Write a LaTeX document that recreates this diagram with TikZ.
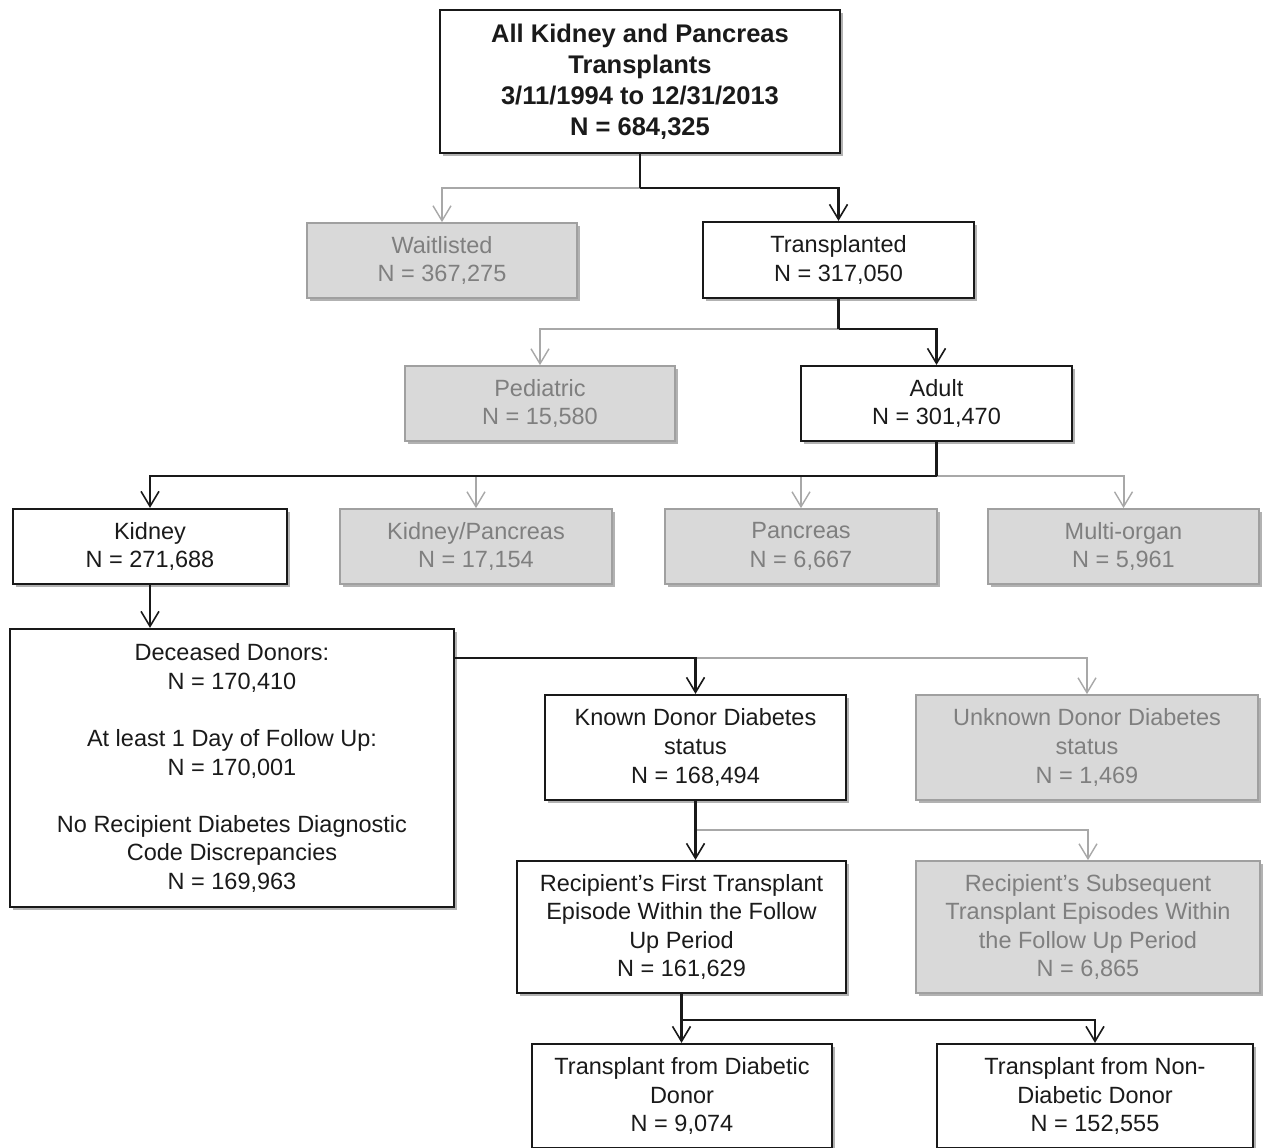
\documentclass[tikz,border=0pt]{standalone}
\usepackage{fontspec}
\setmainfont{Liberation Sans}
\usetikzlibrary{arrows.meta,shadows,calc}
\definecolor{boxgray}{HTML}{D9D9D9}
\definecolor{edgegray}{HTML}{A0A0A0}
\definecolor{txtgray}{HTML}{7F7F7F}
\definecolor{txtblack}{HTML}{1A1A1A}
\definecolor{linegray}{HTML}{A8A8A8}
\tikzset{
  base/.style={rectangle, inner sep=0pt, align=center, line width=2.2pt,
    font=\fontsize{23.5}{28.6}\selectfont,
    drop shadow={shadow xshift=3pt, shadow yshift=-3pt, opacity=0.3, fill=black}},
  wbox/.style={base, draw=black!90, fill=white, text=txtblack},
  gbox/.style={base, draw=edgegray, fill=boxgray, text=txtgray, line width=1.8pt},
  topbox/.style={wbox, font=\bfseries\fontsize{25.5}{31}\selectfont},
  sz/.style 2 args={minimum width=#1pt, minimum height=#2pt},
  blk/.style={draw=black!90, line width=2.4pt, -{Straight Barb[length=15pt,width=18pt,line width=1.6pt]}},
  gry/.style={draw=linegray, line width=2pt, -{Straight Barb[length=15pt,width=18pt,line width=1.4pt]}},
  blkn/.style={draw=black!90, line width=2.4pt},
}
\begin{document}
\begin{tikzpicture}[x=1pt,y=-1pt]
\useasboundingbox (0,0) rectangle (1269,1148);
% boxes
\node[topbox, sz={400}{143}] (top) at (640,81.5) {All Kidney and Pancreas\\Transplants\\3/11/1994 to 12/31/2013\\N = 684,325};
\node[gbox, sz={270}{75}] (wait) at (442,260.5) {Waitlisted\\N = 367,275};
\node[wbox, sz={271}{76}] (trans) at (838.5,260) {Transplanted\\N = 317,050};
\node[gbox, sz={270}{75}] (ped) at (540,403.5) {Pediatric\\N = 15,580};
\node[wbox, sz={271}{75}] (adult) at (936.5,403.5) {Adult\\N = 301,470};
\node[wbox, sz={274}{75}] (kid) at (150,546.5) {Kidney\\N = 271,688};
\node[gbox, sz={272}{75}] (kp) at (476,546.5) {Kidney/Pancreas\\N = 17,154};
\node[gbox, sz={272}{75}] (panc) at (801,546.5) {Pancreas\\N = 6,667};
\node[gbox, sz={271}{75}] (multi) at (1123.5,546.5) {Multi-organ\\N = 5,961};
\node[wbox, sz={444}{278}] (dec) at (232,768) {Deceased Donors:\\N = 170,410\\[28.6pt]At least 1 Day of Follow Up:\\N = 170,001\\[28.6pt]No Recipient Diabetes Diagnostic\\Code Discrepancies\\N = 169,963};
\node[wbox, sz={301}{105}] (known) at (695.5,747.5) {Known Donor Diabetes\\status\\N = 168,494};
\node[gbox, sz={342}{105}] (unknown) at (1087,747.5) {Unknown Donor Diabetes\\status\\N = 1,469};
\node[wbox, sz={329}{132}] (first) at (681.5,927) {Recipient's First Transplant\\Episode Within the Follow\\Up Period\\N = 161,629};
\node[gbox, sz={344}{132}] (subs) at (1088,927) {Recipient's Subsequent\\Transplant Episodes Within\\the Follow Up Period\\N = 6,865};
\node[wbox, sz={300}{104}] (diab) at (682,1096) {Transplant from Diabetic\\Donor\\N = 9,074};
\node[wbox, sz={316}{104}] (nondiab) at (1095,1096) {Transplant from Non-\\Diabetic Donor\\N = 152,555};
% junctions
\coordinate (j1) at (640,188);
\coordinate (j2) at (838.5,329);
\coordinate (j3) at (936.5,476);
\coordinate (j4) at (454,658);
\coordinate (j5) at (695.5,830);
\coordinate (j6) at (681.5,1020);
% gray connectors
\draw[gry] (j1) -| (wait.north);
\draw[gry] (j2) -| (ped.north);
\draw[gry] (j3) -| (kp.north);
\draw[gry] (j3) -| (panc.north);
\draw[gry] (j3) -| (multi.north);
\draw[gry] (j4) -| (unknown.north);
\draw[gry] (j5) -| (subs.north);
% black connectors
\draw[blkn] (top.south) -- (j1);
\draw[blk] (j1) -| (trans.north);
\draw[blkn] (trans.south) -- (j2);
\draw[blk] (j2) -| (adult.north);
\draw[blkn] (adult.south) -- (j3);
\draw[blk] (j3) -| (kid.north);
\draw[blk] (kid.south) -- (kid.south |- dec.north);
\draw[blk] (j4) -| (known.north);
\draw[blk] (known.south) -- (known.south |- first.north);
\draw[blkn] (first.south) -- (j6);
\draw[blk] (j6) -- (j6 |- diab.north);
\draw[blk] (j6) -| (nondiab.north);
\end{tikzpicture}
\end{document}
